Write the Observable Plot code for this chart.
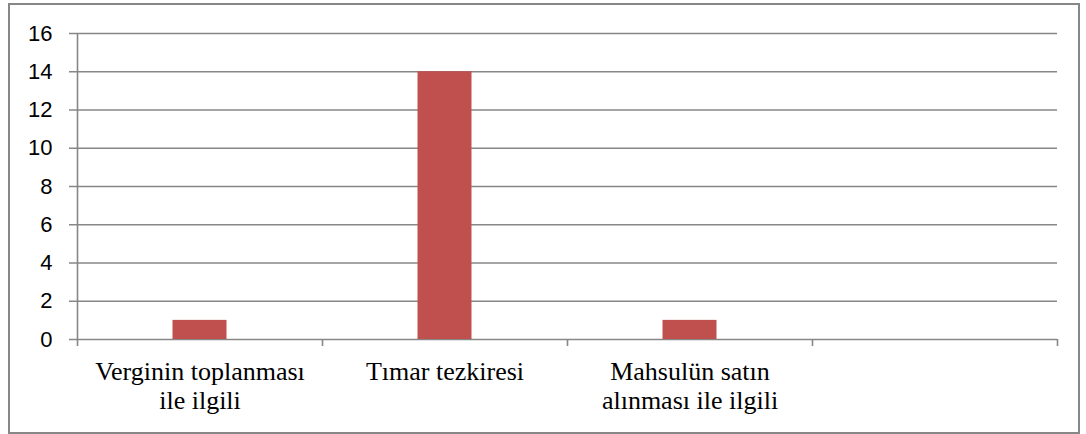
<!DOCTYPE html>
<html><head><meta charset="utf-8">
<script src="https://cdn.jsdelivr.net/npm/d3@7"></script>
<script src="https://cdn.jsdelivr.net/npm/@observablehq/plot@0.6"></script>
<style>
html,body{margin:0;padding:0;background:#fff;}
#wrap{position:relative;width:1086px;height:434px;overflow:hidden;}
#wrap svg{position:absolute;left:0;top:0;}
#border{position:absolute;left:8px;top:3px;width:1068px;height:427px;border:2px solid #878787;pointer-events:none;}
</style></head><body><div id="wrap"><div id="border"></div></div>
<script>
const categories = ["Verginin toplanması ile ilgili", "Tımar tezkiresi", "Mahsulün satın alınması ile ilgili", ""];
const xTickLabels = ["Verginin toplanması\nile ilgili", "Tımar tezkiresi", "Mahsulün satın\nalınması ile ilgili", ""];
const values = [1, 14, 1, null];
const yTicks = [0, 2, 4, 6, 8, 10, 12, 14, 16];

const rows = categories.map((c, i) => ({category: c, value: values[i]})).filter(d => d.value != null);
const grey = "#878787";
const W = 1086, H = 434, mL = 77, mR = 29, mT = 33, mB = 95;
const halfBand = (W - mL - mR) / categories.length / 2;

const chart = Plot.plot({
  width: W, height: H,
  marginLeft: mL, marginRight: mR, marginTop: mT, marginBottom: mB,
  style: {background: "transparent", overflow: "visible"},
  x: {domain: categories, padding: 0, axis: null, label: null},
  y: {domain: [0, 16], axis: null, label: null},
  marks: [
    Plot.gridY(yTicks, {stroke: grey, strokeOpacity: 1, strokeWidth: 1.6, insetLeft: -8}),
    Plot.ruleX([categories[0]], {x: d => d, y1: () => 16, y2: () => 0, dx: -halfBand, insetBottom: -7, stroke: grey, strokeWidth: 1.6}),
    Plot.ruleX(categories, {x: d => d, y1: () => 0, y2: () => 0, dx: halfBand, insetBottom: -7, stroke: grey, strokeWidth: 1.6}),
    Plot.barY(rows, {x: "category", y: "value", fill: "#C0504D", insetLeft: 95.5, insetRight: 95.5}),
    Plot.axisY(yTicks, {label: null, tickSize: 0, tickPadding: 25, fontSize: 22, fontFamily: "Liberation Sans", fill: "#000", tickFormat: d => String(d)}),
    Plot.axisX(categories, {label: null, tickSize: 0, tickPadding: 19.5, fontSize: 26, fontFamily: "Liberation Serif", fill: "#000", lineHeight: 1.13,
      tickFormat: d => xTickLabels[categories.indexOf(d)]})
  ]
});
document.getElementById("wrap").prepend(chart);
</script></body></html>
